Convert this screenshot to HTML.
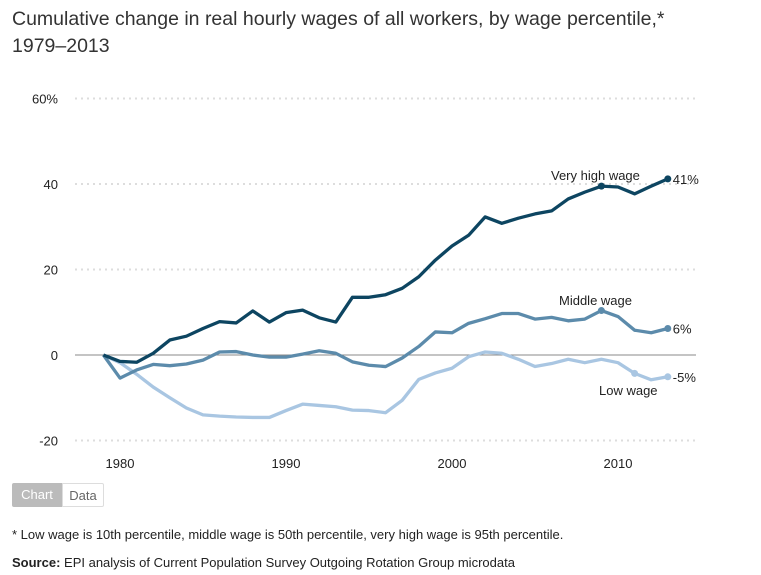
<!DOCTYPE html>
<html><head><meta charset="utf-8"><style>
body{margin:0;background:#fff;font-family:"Liberation Sans",sans-serif;color:#222;}
#wrap{position:relative;width:761px;height:575px;overflow:hidden;}
.title{position:absolute;left:12px;top:6px;font-size:19.5px;line-height:27px;color:#333;}
.tog{position:absolute;top:483px;height:24px;line-height:24px;font-size:13px;box-sizing:border-box;}
.note{position:absolute;left:12px;font-size:13px;color:#222;}
</style></head><body>
<div id="wrap">
<div class="title">Cumulative change in real hourly wages of all workers, by wage percentile,*<br>1979–2013</div>
<svg id="chart" width="761" height="480" style="position:absolute;left:0;top:0"></svg>
<div class="tog" style="left:12px;width:50px;background:#bbb;color:#fff;text-align:center;border-radius:2px 0 0 2px">Chart</div>
<div class="tog" style="left:62px;width:42px;border:1px solid #ddd;color:#666;text-align:center;border-radius:0 2px 2px 0">Data</div>
<div class="note" style="top:527px">* Low wage is 10th percentile, middle wage is 50th percentile, very high wage is 95th percentile.</div>
<div class="note" style="top:555px"><b>Source:</b> EPI analysis of Current Population Survey Outgoing Rotation Group microdata</div>
</div>
<script>
const years=[1979,1980,1981,1982,1983,1984,1985,1986,1987,1988,1989,1990,1991,1992,1993,1994,1995,1996,1997,1998,1999,2000,2001,2002,2003,2004,2005,2006,2007,2008,2009,2010,2011,2012,2013];
const veryHigh=[0,-1.5,-1.7,0.4,3.5,4.4,6.2,7.8,7.5,10.3,7.7,9.9,10.5,8.7,7.7,13.5,13.5,14.1,15.6,18.3,22.2,25.5,28,32.3,30.8,32,33,33.7,36.5,38.1,39.5,39.3,37.7,39.5,41.2];
const middle=[0,-5.4,-3.5,-2.2,-2.5,-2.1,-1.2,0.7,0.8,0,-0.5,-0.5,0.2,1,0.4,-1.6,-2.4,-2.7,-0.7,2,5.4,5.2,7.4,8.5,9.7,9.7,8.4,8.8,8,8.4,10.4,9,5.8,5.2,6.2];
const low=[0,-1.8,-4.5,-7.5,-10,-12.4,-14,-14.3,-14.5,-14.6,-14.6,-13,-11.5,-11.8,-12.1,-12.9,-13,-13.5,-10.6,-5.7,-4.2,-3.1,-0.4,0.7,0.4,-1,-2.7,-2,-1,-1.8,-1,-1.8,-4.3,-5.8,-5.1];
const yTicks=[-20,0,20,40,60];
const xTicks=[1980,1990,2000,2010];
const NS='http://www.w3.org/2000/svg';
const svg=document.getElementById('chart');
const X=y=>103.4+(y-1979)*16.6;
const Y=v=>355-v*4.275;
function mk(t,a){const e=document.createElementNS(NS,t);for(const k in a)e.setAttribute(k,a[k]);svg.appendChild(e);return e;}
yTicks.forEach(v=>{
  const l=mk('line',{x1:75,x2:696,y1:Y(v),y2:Y(v),stroke:v===0?'#888':'#ddd','stroke-width':v===0?1:2,'stroke-dasharray':v===0?'':'2,4'});
  
  
  const t=mk('text',{x:58,y:Y(v)+5,'text-anchor':'end','font-size':13,fill:'#222'});
  t.textContent=v===60?'60%':String(v);
  
  
});
xTicks.forEach(v=>{
  const t=mk('text',{x:X(v),y:468,'text-anchor':'middle','font-size':13,fill:'#222'});
  t.textContent=v;
  
  
});
function series(vals,color,name,marks,label,lx,ly,endLbl){
  const p=mk('polyline',{points:vals.map((v,i)=>X(years[i])+','+Y(v)).join(' '),fill:'none',stroke:color,'stroke-width':3.3,'stroke-linejoin':'round'});
  
  
  marks.forEach(i=>{
    const c=mk('circle',{cx:X(years[i]),cy:Y(vals[i]),r:3.5,fill:color});
    
    
  });
  const t=mk('text',{x:lx,y:ly,'font-size':13,fill:'#222'});
  t.textContent=label;
  
  
  const last=vals.length-1;
  const e=mk('text',{x:X(years[last])+5,y:Y(vals[last])+5,'font-size':13,fill:'#222'});
  e.textContent=endLbl;
  
  
}
series(low,'#a9c6e2','low-wage',[32,34],'Low wage',599,395,'-5%');
series(middle,'#5c8bab','middle-wage',[30,34],'Middle wage',559,305,'6%');
series(veryHigh,'#0d4561','very-high-wage',[30,34],'Very high wage',551,180,'41%');
</script>
</body></html>
